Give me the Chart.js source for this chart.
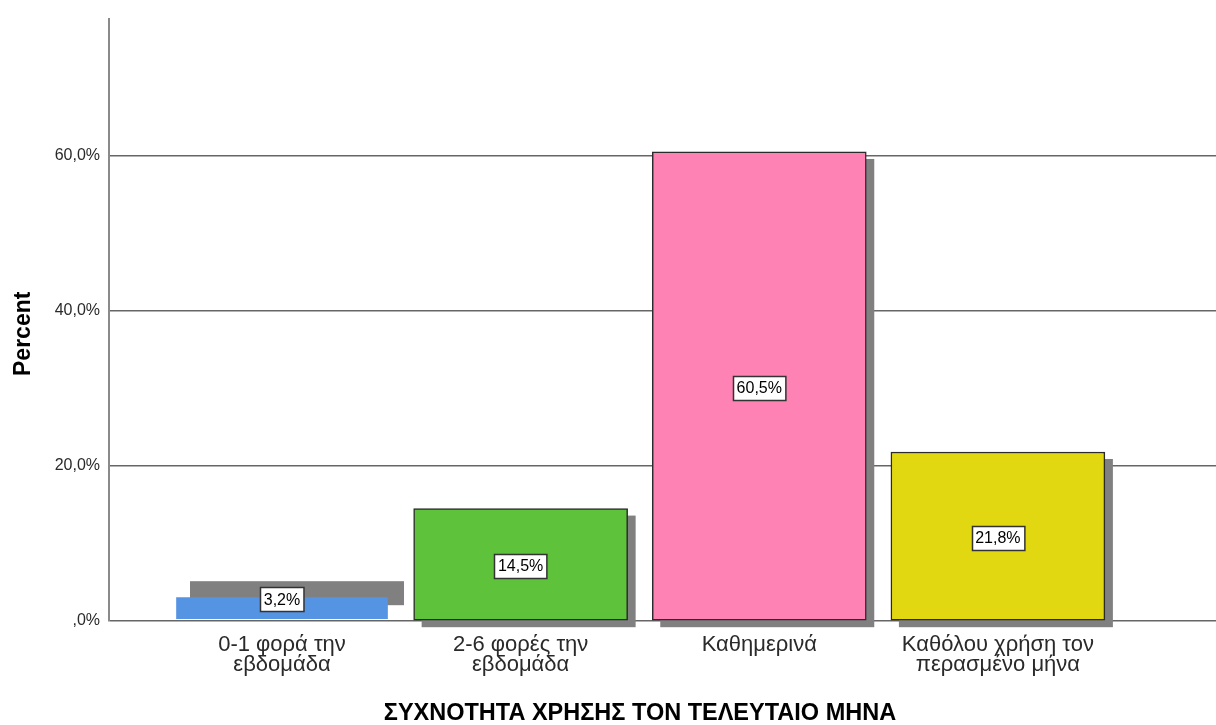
<!DOCTYPE html>
<html>
<head>
<meta charset="utf-8">
<script src="https://cdn.jsdelivr.net/npm/chart.js@4/dist/chart.umd.min.js"></script>
<style>
html,body{margin:0;padding:0;background:#fff;}
#wrap{width:1216px;height:725px;position:relative;}
</style>
</head>
<body>
<div id="wrap"><canvas id="c" width="1216" height="725"></canvas></div>
<script>
const categories = [
  ["0-1 φορά την", "εβδομάδα"],
  ["2-6 φορές την", "εβδομάδα"],
  ["Καθημερινά"],
  ["Καθόλου χρήση τον", "περασμένο μήνα"]
];
const percents = [3.2, 14.5, 60.5, 21.8];
const barColors = ["#5593E3", "#5EC23A", "#FF82B4", "#E2D811"];
const borderColors = ["rgba(0,0,0,0)", "#2b2b2b", "#2b2b2b", "#2b2b2b"];
const yTicks = [0, 20, 40, 60];
const xTitle = "ΣΥΧΝΟΤΗΤΑ ΧΡΗΣΗΣ ΤΟΝ ΤΕΛΕΥΤΑΙΟ ΜΗΝΑ";
const yTitle = "Percent";

const FONT = "'Liberation Sans', Arial, sans-serif";
const fmt = v => (v === 0 ? "" : Math.floor(v).toString()) + "," + (Math.round(v*10)%10) + "%";

const shadowOffsets = [[15,-15],[8,7],[8,7],[8,7]];

const shadowPlugin = {
  id: 'shadow',
  beforeDatasetsDraw(chart) {
    const ctx = chart.ctx;
    const meta = chart.getDatasetMeta(0);
    ctx.save();
    ctx.fillStyle = '#808080';
    meta.data.forEach((bar, i) => {
      const p = bar.getProps(['x','y','base','width'], true);
      const [dx, dy] = shadowOffsets[i];
      ctx.fillRect(p.x - p.width/2 + dx, p.y + dy, p.width, p.base - p.y);
    });
    ctx.restore();
  }
};

const labelPlugin = {
  id: 'boxlabels',
  afterDatasetsDraw(chart) {
    const ctx = chart.ctx;
    const meta = chart.getDatasetMeta(0);
    ctx.save();
    ctx.font = "16px " + FONT;
    ctx.textAlign = 'center';
    ctx.textBaseline = 'middle';
    meta.data.forEach((bar, i) => {
      const p = bar.getProps(['x','y','base'], true);
      const txt = fmt(percents[i]);
      const w = ctx.measureText(txt).width + 7;
      const h = 24;
      let cy = (p.y + p.base)/2 + 1.5;
      cy = Math.min(cy, p.base - h/2 - 9);
      const x0 = Math.round(p.x - w/2) + 0.5, y0 = Math.round(cy - h/2) + 0.5;
      ctx.fillStyle = '#fff';
      ctx.fillRect(x0, y0, w, h);
      ctx.strokeStyle = '#333';
      ctx.lineWidth = 1.5;
      ctx.strokeRect(x0, y0, w, h);
      ctx.fillStyle = '#000';
      ctx.fillText(txt, p.x, cy + 1);
    });
    ctx.restore();
  }
};

const titlePlugin = {
  id: 'titles',
  afterDraw(chart) {
    const ctx = chart.ctx;
    const xs = chart.scales.x, ca = chart.chartArea;
    ctx.save();
    ctx.fillStyle = '#000';
    ctx.font = "bold 23.5px " + FONT;
    ctx.textAlign = 'center';
    ctx.textBaseline = 'middle';
    ctx.fillText(xTitle, (xs.getPixelForValue(0) + xs.getPixelForValue(categories.length-1))/2, 714);
    ctx.font = "bold 23px " + FONT;
    ctx.translate(24, (ca.top + ca.bottom)/2 + 14);
    ctx.rotate(-Math.PI/2);
    ctx.fillText(yTitle, 0, 0);
    ctx.restore();
  }
};

new Chart(document.getElementById('c'), {
  type: 'bar',
  data: {
    datasets: [{
      data: percents.map((v, i) => ({x: i, y: v})),
      backgroundColor: barColors,
      borderColor: borderColors,
      borderWidth: 1.5,
      borderSkipped: false,
      barThickness: 214
    }]
  },
  plugins: [shadowPlugin, labelPlugin, titlePlugin],
  options: {
    responsive: false,
    animation: false,
    events: [],
    layout: { padding: { top: 15, right: 0, bottom: 0, left: 0 } },
    plugins: { legend: { display: false }, tooltip: { enabled: false } },
    scales: {
      x: {
        type: 'linear',
        offset: false,
        bounds: 'data',
        min: -0.725,
        max: 3.914,
        afterBuildTicks: s => { s.ticks = categories.map((c, i) => ({value: i})); },
        afterFit: s => { s.height = 104; },
        grid: { display: false, drawTicks: false },
        border: { display: false },
        ticks: {
          autoSkip: false,
          maxRotation: 0,
          padding: 14,
          color: '#2a2a2a',
          font: { family: FONT, size: 22, lineHeight: 0.92 },
          callback: v => categories[v]
        }
      },
      y: {
        min: 0,
        max: 77.7,
        afterBuildTicks: s => { s.ticks = yTicks.map(v => ({value: v})); },
        afterFit: s => { s.width = 109; },
        grid: { color: '#666666', lineWidth: 1.6, drawTicks: false },
        border: { color: '#8a8a8a', width: 2 },
        ticks: {
          padding: 9,
          color: '#2a2a2a',
          font: { family: FONT, size: 16 },
          callback: v => fmt(v)
        }
      }
    }
  }
});
</script>
</body>
</html>
